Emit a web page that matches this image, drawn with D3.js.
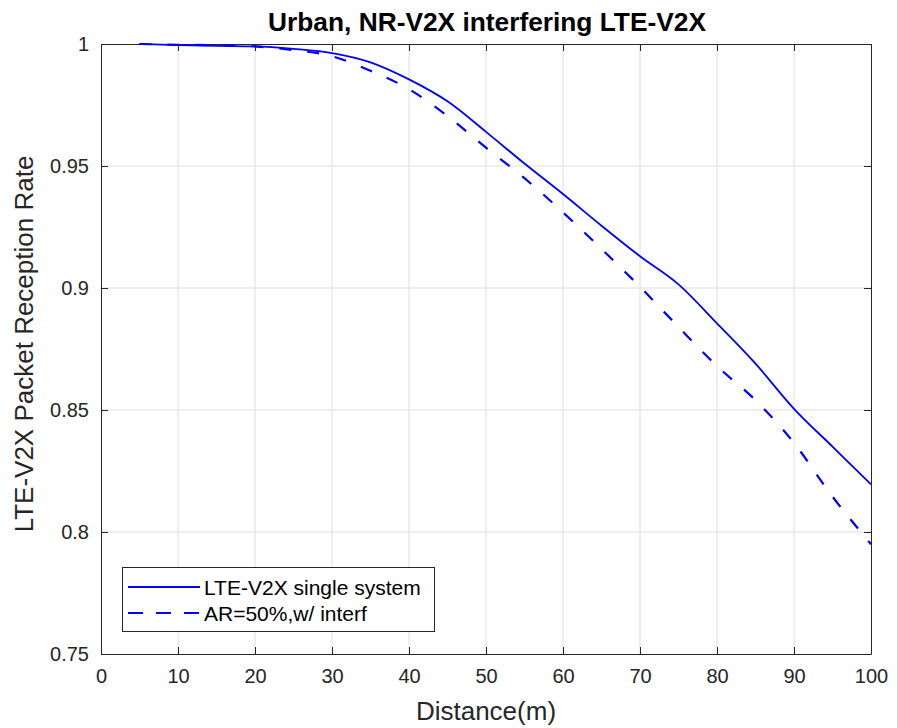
<!DOCTYPE html>
<html><head><meta charset="utf-8">
<script src="https://cdn.jsdelivr.net/npm/d3@7"></script>
<style>body{margin:0;background:#fff}svg{display:block}text{font-family:"Liberation Sans",Arial,sans-serif}</style>
</head><body><svg id="c" width="897" height="728"></svg>
<script>
const distance = [5,10,15,20,25,30,35,40,45,50,55,60,65,70,75,80,85,90,95,100];
const singleSystem = [1.0,0.9995,0.9992,0.999,0.998,0.9963,0.9925,0.9855,0.9765,0.964,0.951,0.9385,0.9255,0.913,0.9015,0.8855,0.869,0.8505,0.835,0.8195];
const withInterf = [1.0,0.9997,0.9995,0.999,0.9975,0.995,0.989,0.9815,0.9705,0.9575,0.945,0.931,0.916,0.9005,0.884,0.868,0.854,0.8365,0.8145,0.795];
const xTicks = [0,10,20,30,40,50,60,70,80,90,100];
const yTicks = [0.75,0.8,0.85,0.9,0.95,1];
const seriesNames = ["LTE-V2X single system","AR=50%,w/ interf"];

const svg = d3.select("#c");
const L=101,R=871,T=44,B=654;
const x = d3.scaleLinear().domain([0,100]).range([L,R]);
const y = d3.scaleLinear().domain([0.75,1]).range([B,T]);
const axisCol="#262626", gridCol="#dedede";

// grid
svg.append("g").selectAll("line").data(xTicks.slice(1,-1)).join("line")
  .attr("x1",d=>x(d)).attr("x2",d=>x(d)).attr("y1",T).attr("y2",B)
  .attr("stroke",gridCol).attr("stroke-width",1);
svg.append("g").selectAll("line").data(yTicks.slice(1,-1)).join("line")
  .attr("y1",d=>y(d)).attr("y2",d=>y(d)).attr("x1",L).attr("x2",R)
  .attr("stroke",gridCol).attr("stroke-width",1);

// axes
const fmtY = d=> d===1?"1":d3.format("")(d);
const ax = svg.append("g").attr("transform",`translate(0,${B})`)
  .call(d3.axisBottom(x).tickValues(xTicks).tickSizeInner(-7).tickSizeOuter(0).tickPadding(15));
const axT = svg.append("g").attr("transform",`translate(0,${T})`)
  .call(d3.axisTop(x).tickValues(xTicks).tickSizeInner(-7).tickSizeOuter(0).tickFormat(""));
const ay = svg.append("g").attr("transform",`translate(${L},0)`)
  .call(d3.axisLeft(y).tickValues(yTicks).tickSizeInner(-7).tickSizeOuter(0).tickPadding(12).tickFormat(fmtY));
const ayR = svg.append("g").attr("transform",`translate(${R},0)`)
  .call(d3.axisRight(y).tickValues(yTicks).tickSizeInner(-7).tickSizeOuter(0).tickFormat(""));
[ax,axT,ay,ayR].forEach(g=>{
  g.selectAll("path").attr("stroke",axisCol).attr("stroke-width",1);
  g.selectAll("line").attr("stroke",axisCol);
  g.selectAll("text").attr("fill",axisCol).style("font-size","20px").style("font-family","'Liberation Sans',Arial,sans-serif");
});

// lines
const line = d3.line().x((d,i)=>x(distance[i])).y(d=>y(d)).curve(d3.curveMonotoneX);
svg.append("path").datum(singleSystem).attr("d",line).attr("fill","none")
  .attr("stroke","#0000ff").attr("stroke-width",1.8);
svg.append("path").datum(withInterf).attr("d",line).attr("fill","none")
  .attr("stroke","#0000ff").attr("stroke-width",2.2).attr("stroke-dasharray","12,16");

// title and labels
svg.append("text").attr("x",487).attr("y",31).attr("text-anchor","middle")
  .style("font-size","26.3px").style("font-weight","bold").attr("fill","#000")
  .text("Urban, NR-V2X interfering LTE-V2X");
svg.append("text").attr("x",486).attr("y",720).attr("text-anchor","middle")
  .style("font-size","26px").attr("fill",axisCol).text("Distance(m)");
svg.append("text").attr("transform","translate(33,344) rotate(-90)").attr("text-anchor","middle")
  .style("font-size","26px").attr("fill",axisCol).text("LTE-V2X Packet Reception Rate");

// legend
const lg = svg.append("g");
lg.append("rect").attr("x",122.5).attr("y",567.5).attr("width",312).attr("height",64)
  .attr("fill","#fff").attr("stroke",axisCol).attr("stroke-width",1);
seriesNames.forEach((n,i)=>{
  const yy = 587 + i*26;
  lg.append("line").attr("x1",128).attr("x2",200).attr("y1",yy).attr("y2",yy)
    .attr("stroke","#0000ff").attr("stroke-width",i?2.2:1.8).attr("stroke-dasharray",i?"15,13":null);
  lg.append("text").attr("x",204).attr("y",yy+7.5).style("font-size","21px").attr("fill","#000").text(n);
});
</script></body></html>
